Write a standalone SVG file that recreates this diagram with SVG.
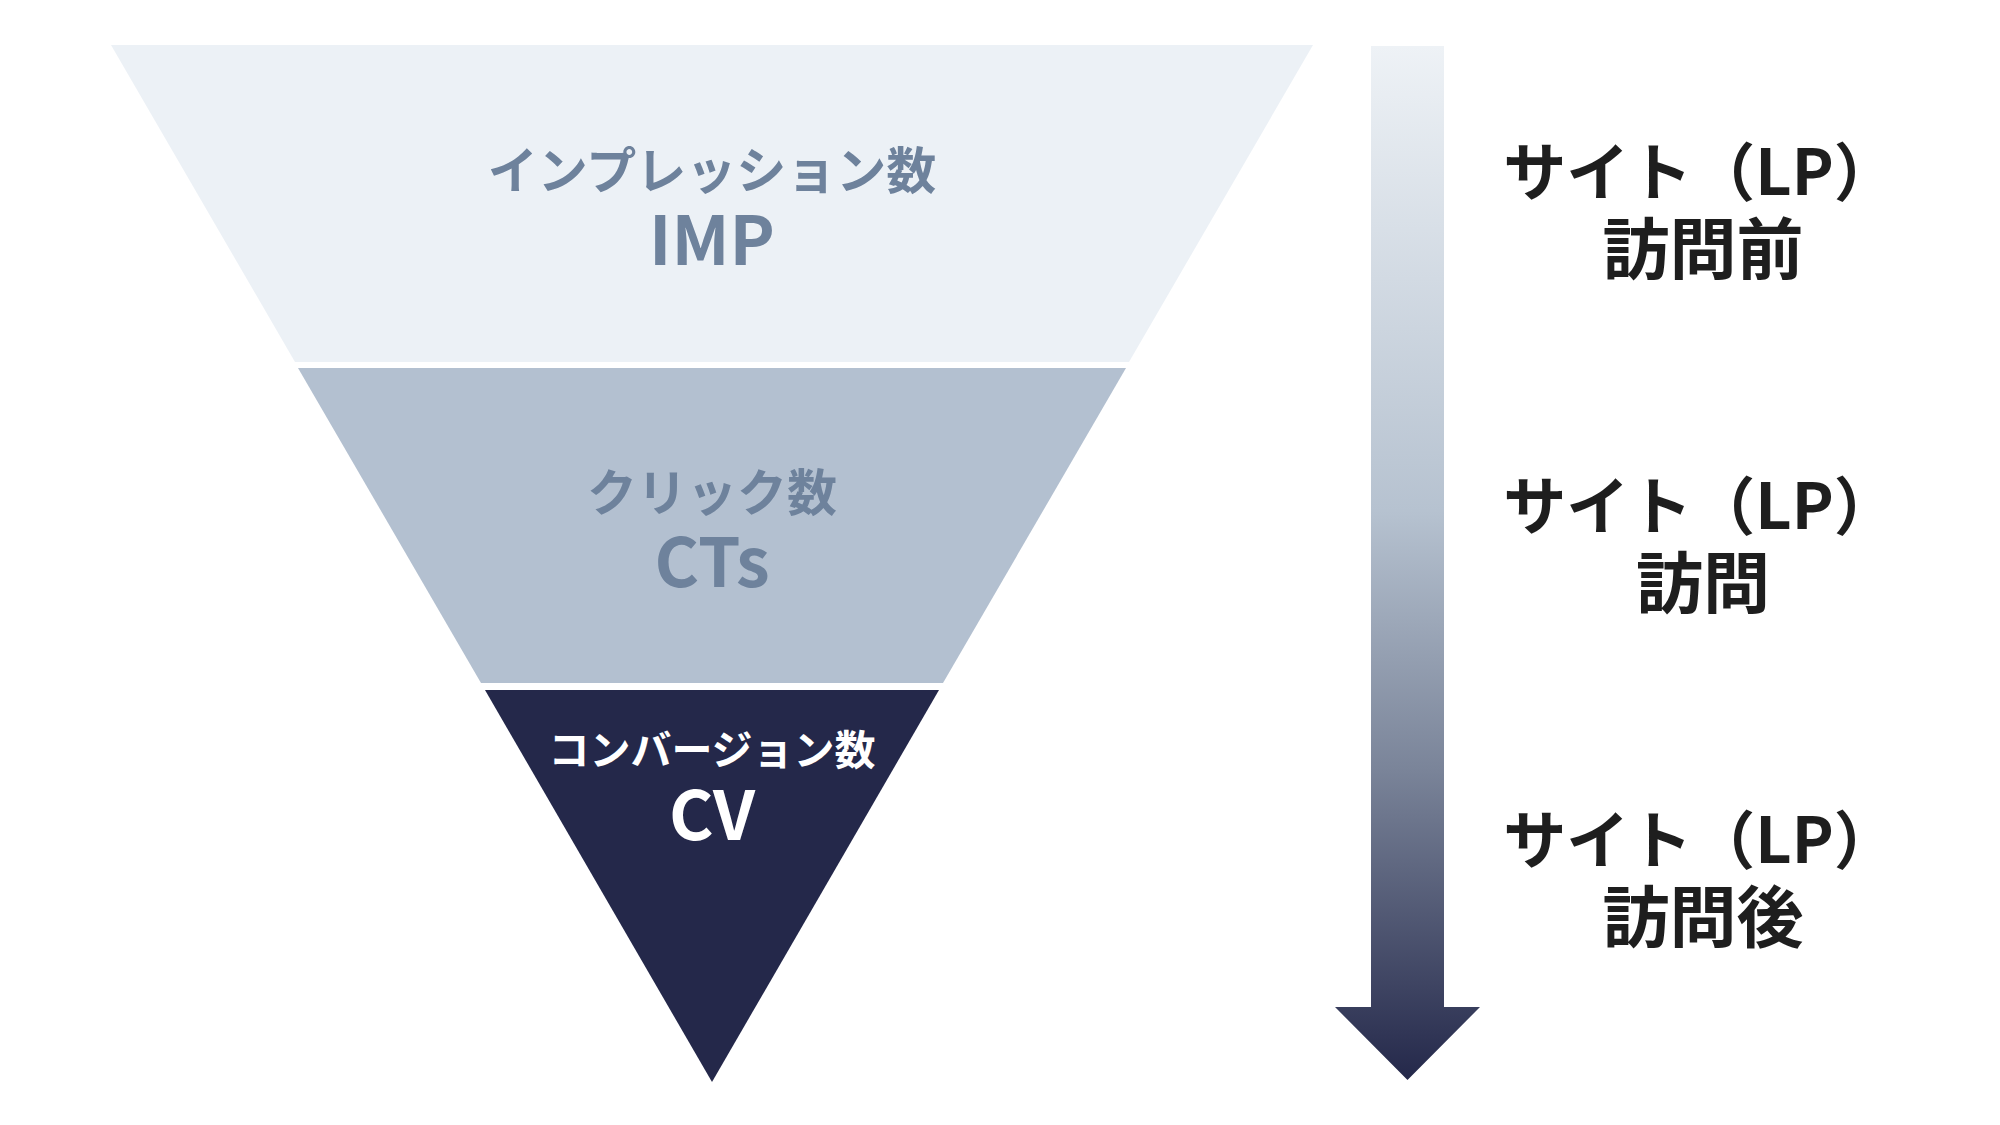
<svg xmlns="http://www.w3.org/2000/svg" width="2000" height="1125" viewBox="0 0 2000 1125">
  <defs>
    <linearGradient id="arrowGrad" x1="0" y1="0" x2="0" y2="1">
      <stop offset="0" stop-color="#EEF2F6"/>
      <stop offset="0.45" stop-color="#B6C2D0"/>
      <stop offset="0.7" stop-color="#7A8499"/>
      <stop offset="1" stop-color="#24284A"/>
    </linearGradient>
    <style>
      text { font-family: "Noto Sans CJK JP", "Noto Sans", sans-serif; font-weight: 700; text-anchor: middle; }
      .lbl { font-size: 50px; fill: #6E829C; }
      .big { font-size: 68px; fill: #6E829C; }
      .lbl3 { font-size: 41px; fill: #FFFFFF; }
      .big3 { font-size: 68px; fill: #FFFFFF; }
      .side { font-size: 63px; fill: #1E1E1E; }
      .side2 { font-size: 67px; fill: #1E1E1E; }
    </style>
  </defs>
  <rect width="2000" height="1125" fill="#FFFFFF"/>

  <g id="layer-imp">
    <polygon points="111,45 1313,45 1129,362 295,362" fill="#ECF1F6"/>
    <text class="lbl" x="712" y="189">インプレッション数</text>
    <text class="big" x="712" y="265">IMP</text>
  </g>

  <g id="layer-ct">
    <polygon points="298,368 1126,368 943,683 481,683" fill="#B3C0D0"/>
    <text class="lbl" x="712" y="511">クリック数</text>
    <text class="big" x="712" y="587">CTs</text>
  </g>

  <g id="layer-cv">
    <polygon points="485,690 939,690 712,1082" fill="#24284A"/>
    <text class="lbl3" x="712" y="765">コンバージョン数</text>
    <text class="big3" x="712" y="840">CV</text>
  </g>

  <g id="connectors">
    <path d="M1371,46 H1444 V1007 H1480 L1407.5,1080 L1335,1007 H1371 Z" fill="url(#arrowGrad)"/>
  </g>

  <g id="stage-before">
    <text class="side" x="1700" y="195">サイト（LP）</text>
    <text class="side2" x="1703" y="274">訪問前</text>
  </g>
  <g id="stage-visit">
    <text class="side" x="1700" y="529">サイト（LP）</text>
    <text class="side2" x="1703" y="608">訪問</text>
  </g>
  <g id="stage-after">
    <text class="side" x="1700" y="863">サイト（LP）</text>
    <text class="side2" x="1703" y="942">訪問後</text>
  </g>
</svg>
